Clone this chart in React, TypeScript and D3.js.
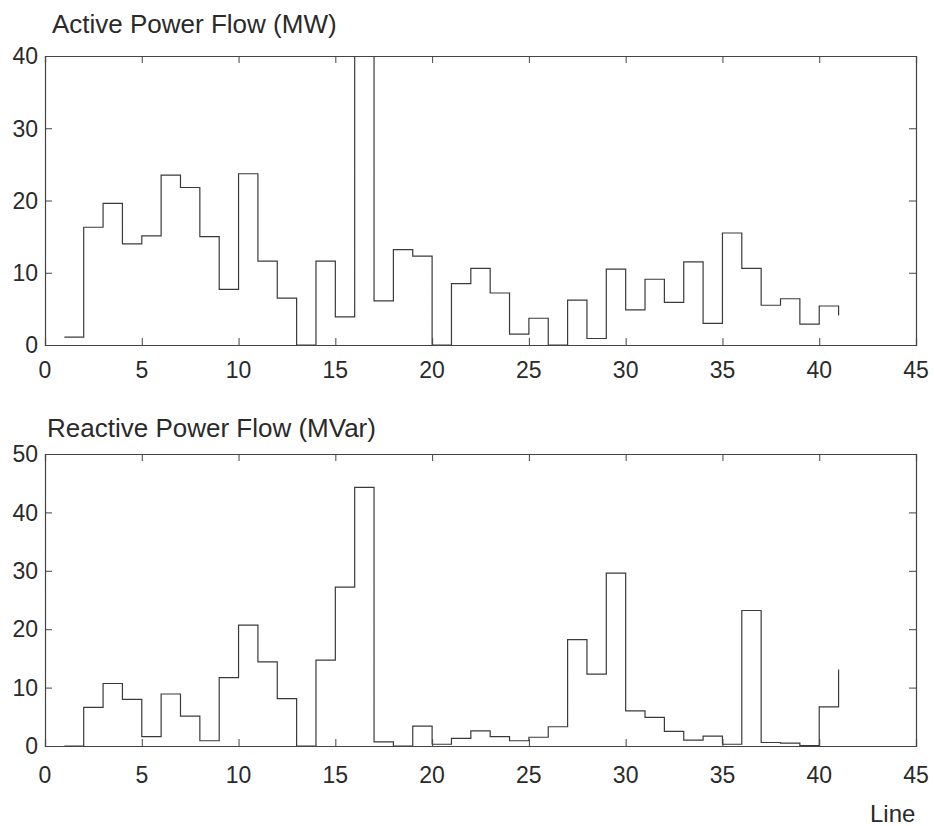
import React, { useRef, useEffect } from 'react';
import * as d3 from 'd3';

const lineNumbers = [
  1, 2, 3, 4, 5, 6, 7, 8, 9, 10, 11, 12, 13, 14, 15, 16, 17, 18, 19, 20, 21,
  22, 23, 24, 25, 26, 27, 28, 29, 30, 31, 32, 33, 34, 35, 36, 37, 38, 39, 40, 41,
];

// MW, line 16 runs off the top of the axes
const activePower = [
  1.1, 16.3, 19.6, 14.0, 15.1, 23.5, 21.8, 15.0, 7.7, 23.7, 11.6, 6.5, 0, 11.6,
  3.9, 48, 6.1, 13.2, 12.3, 0, 8.5, 10.6, 7.2, 1.5, 3.7, 0, 6.2, 0.9, 10.5, 4.85,
  9.1, 5.9, 11.5, 3.0, 15.5, 10.6, 5.5, 6.4, 2.9, 5.4, 4.1,
];

// MVar
const reactivePower = [
  0, 6.6, 10.7, 8.0, 1.6, 8.9, 5.1, 0.9, 11.7, 20.7, 14.4, 8.1, 0, 14.7, 27.2,
  44.3, 0.7, 0, 3.4, 0.3, 1.3, 2.6, 1.6, 0.9, 1.5, 3.3, 18.2, 12.3, 29.6, 6.0,
  4.9, 2.5, 1.0, 1.7, 0.3, 23.2, 0.6, 0.5, 0.05, 6.7, 13.1,
];

const xTicks = [0, 5, 10, 15, 20, 25, 30, 35, 40, 45];
const activeTicks = [0, 10, 20, 30, 40];
const reactiveTicks = [0, 10, 20, 30, 40, 50];

const panels = [
  { id: 'p', title: 'Active Power Flow (MW)', values: activePower, yMax: 40, yTicks: activeTicks,
    top: 56, bottom: 345, titleX: 52, titleY: 33, xLabelY: 378 },
  { id: 'q', title: 'Reactive Power Flow (MVar)', values: reactivePower, yMax: 50, yTicks: reactiveTicks,
    top: 454, bottom: 746, titleX: 47, titleY: 437, xLabelY: 783 },
];

const FONT = '"Liberation Sans", Arial, sans-serif';
const INK = '#2a2a2a';

export default function App() {
  const svgRef = useRef<SVGSVGElement | null>(null);

  useEffect(() => {
    const svg = d3.select(svgRef.current);
    svg.selectAll('*').remove();

    const left = 45;
    const right = 916;
    const xScale = d3.scaleLinear().domain([0, 45]).range([left, right]);

    panels.forEach((p) => {
      const yScale = d3.scaleLinear().domain([0, p.yMax]).range([p.bottom, p.top]);
      const g = svg.append('g');

      g.append('clipPath')
        .attr('id', `clip-${p.id}`)
        .append('rect')
        .attr('x', left)
        .attr('y', p.top)
        .attr('width', right - left)
        .attr('height', p.bottom - p.top);

      // stairs
      const line = d3
        .line<number>()
        .x((d, i) => xScale(lineNumbers[i]))
        .y((d) => yScale(d))
        .curve(d3.curveStepAfter);

      g.append('path')
        .attr('d', line(p.values))
        .attr('fill', 'none')
        .attr('stroke', '#3a3a3a')
        .attr('stroke-width', 1.2)
        .attr('clip-path', `url(#clip-${p.id})`);

      // axes, ticks inward on all four sides
      const tickLen = 7;
      const bottomAxis = d3.axisBottom(xScale).tickValues(xTicks).tickSize(-tickLen).tickPadding(0).tickFormat(() => '');
      const topAxis = d3.axisTop(xScale).tickValues(xTicks).tickSize(-tickLen).tickFormat(() => '');
      const leftAxis = d3.axisLeft(yScale).tickValues(p.yTicks).tickSize(-tickLen).tickFormat(() => '');
      const rightAxis = d3.axisRight(yScale).tickValues(p.yTicks).tickSize(-tickLen).tickFormat(() => '');

      const axes = [
        g.append('g').attr('transform', `translate(0,${p.bottom})`).call(bottomAxis),
        g.append('g').attr('transform', `translate(0,${p.top})`).call(topAxis),
        g.append('g').attr('transform', `translate(${left},0)`).call(leftAxis),
        g.append('g').attr('transform', `translate(${right},0)`).call(rightAxis),
      ];
      axes.forEach((a) => {
        a.select('.domain').attr('stroke', '#444').attr('stroke-width', 1.2);
        a.selectAll('.tick line').attr('stroke', '#444').attr('stroke-width', 1);
        a.selectAll('.tick text').remove();
      });

      // tick labels
      g.selectAll('.xl')
        .data(xTicks)
        .enter()
        .append('text')
        .attr('x', (d) => xScale(d))
        .attr('y', p.xLabelY)
        .attr('text-anchor', 'middle')
        .attr('font-family', FONT)
        .attr('font-size', 23)
        .attr('fill', INK)
        .text((d) => d);

      g.selectAll('.yl')
        .data(p.yTicks)
        .enter()
        .append('text')
        .attr('x', 38)
        .attr('y', (d) => yScale(d))
        .attr('dy', '0.36em')
        .attr('text-anchor', 'end')
        .attr('font-family', FONT)
        .attr('font-size', 23)
        .attr('fill', INK)
        .text((d) => d);

      g.append('text')
        .attr('x', p.titleX)
        .attr('y', p.titleY)
        .attr('font-family', FONT)
        .attr('font-size', 26)
        .attr('fill', INK)
        .text(p.title);
    });

    svg.append('text')
      .attr('x', 870)
      .attr('y', 822)
      .attr('font-family', FONT)
      .attr('font-size', 24)
      .attr('fill', INK)
      .text('Line');
  }, []);

  return (
    <svg
      ref={svgRef}
      width={934}
      height={826}
      style={{ position: 'absolute', left: 0, top: 0, background: '#fff' }}
    />
  );
}
